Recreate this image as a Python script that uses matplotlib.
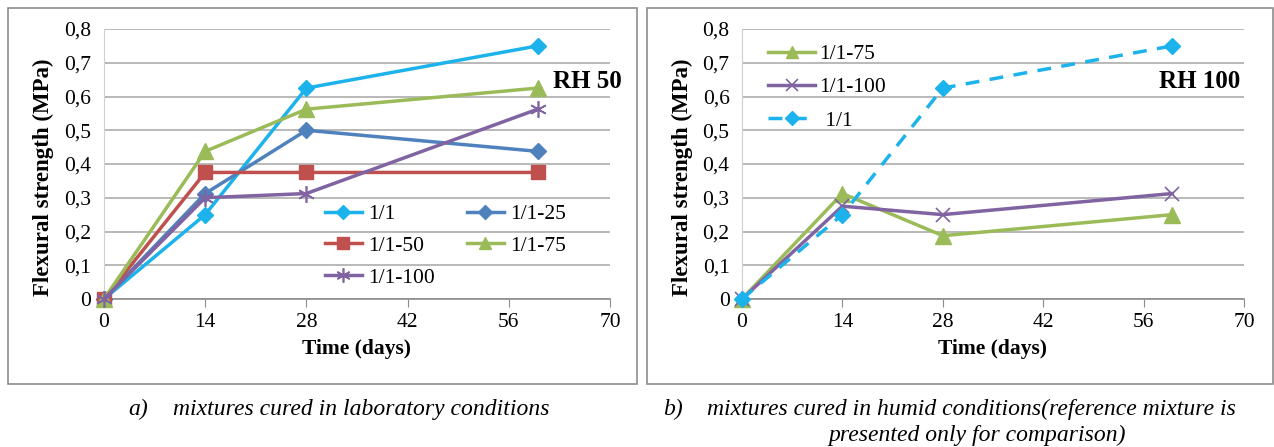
import matplotlib
matplotlib.use("Agg")
import matplotlib.pyplot as plt
from matplotlib.ticker import FuncFormatter, FixedLocator
from matplotlib.patches import Rectangle

# ---- data ----
days = [0, 14, 28, 60]
lab_names = ["1/1", "1/1-25", "1/1-50", "1/1-75", "1/1-100"]
lab_1_1 = [0, 0.25, 0.625, 0.75]
lab_1_1_25 = [0, 0.3125, 0.5, 0.4375]
lab_1_1_50 = [0, 0.375, 0.375, 0.375]
lab_1_1_75 = [0, 0.4375, 0.5625, 0.625]
lab_1_1_100 = [0, 0.30, 0.3125, 0.5625]

hum_names = ["1/1-75", "1/1-100", " 1/1"]
hum_1_1_75 = [0, 0.3125, 0.1875, 0.25]
hum_1_1_100 = [0, 0.275, 0.25, 0.3125]
hum_1_1 = [0, 0.25, 0.625, 0.75]

xticks = [0, 14, 28, 42, 56, 70]
yticks = [0, 0.1, 0.2, 0.3, 0.4, 0.5, 0.6, 0.7, 0.8]

C_11 = "#1CB2EC"
C_25 = "#4F81BD"
C_50 = "#C0504D"
C_75 = "#9BBB59"
C_100 = "#8064A2"

SERIF = ["Liberation Serif", "DejaVu Serif"]
plt.rcParams["font.family"] = SERIF

W, H = 1274, 447
fig = plt.figure(figsize=(W / 100, H / 100), dpi=100)

def fx(px):
    return px / W

def fy(py):
    return 1 - py / H

# panel frames
for (x0, x1) in [(8, 637), (647, 1273)]:
    fig.patches.append(Rectangle((fx(x0), fy(384)), (x1 - x0) / W, (384 - 8) / H,
                                 transform=fig.transFigure, fill=False,
                                 edgecolor="#8C8C8C", lw=1.2))

def fmt(v, pos):
    if abs(v) < 1e-9:
        return "0"
    return ("%.1f" % v).replace(".", ",")

def style(ax):
    ax.set_xlim(0, 70)
    ax.set_ylim(0, 0.8)
    ax.xaxis.set_major_locator(FixedLocator(xticks))
    ax.yaxis.set_major_locator(FixedLocator(yticks))
    ax.yaxis.set_major_formatter(FuncFormatter(fmt))
    ax.grid(axis="y", color="#A6A6A6", lw=1.1)
    ax.set_axisbelow(True)
    for s in ["top", "right"]:
        ax.spines[s].set_visible(False)
    ax.spines["left"].set_color("#D0D0D0")
    ax.spines["bottom"].set_color("#8C8C8C")
    ax.spines["bottom"].set_linewidth(1.2)
    ax.tick_params(axis="y", length=0, labelsize=15.5, pad=9)
    ax.tick_params(axis="x", length=6, direction="out", color="#8C8C8C",
                   labelsize=15.5, pad=4)
    ax.set_xlabel("Time (days)", fontsize=15.5, fontweight="bold", labelpad=5)
    ax.set_ylabel("Flexural strength (MPa)", fontsize=16.5, fontweight="bold")
    ax.yaxis.set_label_coords(-0.098, 0.45)

ax1 = fig.add_axes([fx(104), fy(299), (610 - 104) / W, (299 - 29) / H])
ax2 = fig.add_axes([fx(742), fy(299), (1244 - 742) / W, (299 - 29) / H])
style(ax1)
style(ax2)

lw = 2.5
asterisk = (6, 2, 0)
h11, = ax1.plot(days, lab_1_1, color=C_11, lw=lw, marker="D", ms=8, label=lab_names[0], clip_on=False, zorder=3)
h25, = ax1.plot(days, lab_1_1_25, color=C_25, lw=lw, marker="D", ms=8, label=lab_names[1], clip_on=False, zorder=3)
h50, = ax1.plot(days, lab_1_1_50, color=C_50, lw=lw, marker="s", ms=10, label=lab_names[2], clip_on=False, zorder=3)
h75, = ax1.plot(days, lab_1_1_75, color=C_75, lw=lw, marker="^", ms=11, label=lab_names[3], clip_on=False, zorder=3)
h100, = ax1.plot(days, lab_1_1_100, color=C_100, lw=lw, marker=asterisk, ms=12, mew=1.2, label=lab_names[4], clip_on=False, zorder=3)

# row-wise legend ordering (matplotlib fills columns first)
order = [h11, h50, h100, h25, h75]
ax1.legend(order, [h.get_label() for h in order], ncol=2, loc="upper left",
           bbox_to_anchor=(fx(325), fy(204)), bbox_transform=fig.transFigure,
           frameon=False, fontsize=15.5, handlelength=1.7, columnspacing=1.5,
           labelspacing=0.55, handletextpad=0.3, borderaxespad=0, borderpad=0,
           markerscale=0.85)
ax1.text(fx(622), fy(81), "RH 50", transform=fig.transFigure, ha="right", va="center",
         fontsize=18, fontweight="bold")

g75, = ax2.plot(days, hum_1_1_75, color=C_75, lw=lw, marker="^", ms=11, label=hum_names[0], clip_on=False, zorder=3)
g100, = ax2.plot(days, hum_1_1_100, color=C_100, lw=lw, marker="x", ms=10, mew=1.2, label=hum_names[1], clip_on=False, zorder=3)
g11, = ax2.plot(days, hum_1_1, color=C_11, lw=lw, ls=(0, (4, 3)), marker="D", ms=8, label=hum_names[2], clip_on=False, zorder=3)
ax2.legend(loc="upper left", bbox_to_anchor=(fx(768), fy(44)), bbox_transform=fig.transFigure,
           frameon=False, fontsize=15.5, handlelength=2.2, labelspacing=0.62,
           handletextpad=0.2, borderaxespad=0, borderpad=0, markerscale=0.85)
ax2.text(fx(1240), fy(81), "RH 100", transform=fig.transFigure, ha="right", va="center",
         fontsize=18, fontweight="bold")

# captions
cap = dict(fontsize=17, style="italic", va="center")
fig.text(fx(128), fy(409), "a)", ha="left", **cap)
fig.text(fx(173), fy(409), "mixtures cured in laboratory conditions", ha="left", **cap)
fig.text(fx(663), fy(409), "b)", ha="left", **cap)
fig.text(fx(707), fy(409), "mixtures cured in humid conditions(reference mixture is", ha="left", **cap)
fig.text(fx(977), fy(435), "presented only for comparison)", ha="center", **cap)

fig.savefig("out.png", dpi=100)
